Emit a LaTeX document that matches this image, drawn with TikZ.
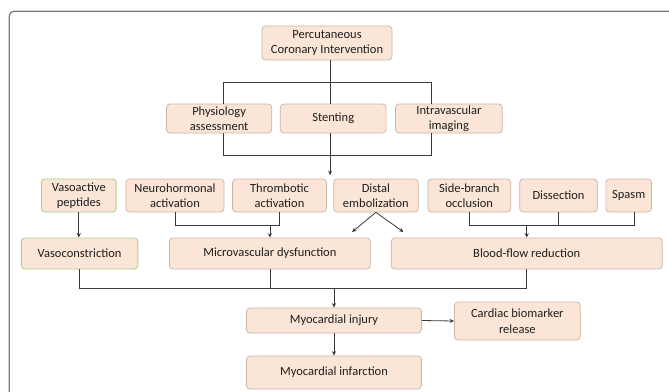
\documentclass[tikz,border=0pt]{standalone}
\usepackage{fontspec}
\setmainfont{Carlito}
\usetikzlibrary{arrows.meta,calc}
\definecolor{boxfill}{HTML}{FBE5D6}
\definecolor{boxline}{HTML}{C9B5A8}
\definecolor{greenline}{HTML}{A9D08E}
\definecolor{conn}{HTML}{3A3A3A}
\definecolor{framecol}{HTML}{7A7A7A}
\definecolor{txt}{HTML}{1E1E1E}
\tikzset{
  box/.style={draw=boxline, fill=boxfill, rounded corners=3.5pt, line width=0.7pt,
    align=center, inner sep=1pt, text=txt, font=\fontsize{12.5}{15.5}\selectfont},
  gbox/.style={box, draw=greenline, line width=0.9pt},
  conline/.style={draw=conn, line width=0.8pt},
  arr/.style={conline, -{Stealth[length=4.5pt,width=4pt]}},
}
\newcommand{\bx}[7][box]{\node[#1, minimum width=#5pt, minimum height=#6pt] (#2) at (#3,#4) {#7};}
\begin{document}
\begin{tikzpicture}[x=1pt,y=-1pt]
\useasboundingbox (0,0) rectangle (669,391);
\fill[white] (0,0) rectangle (669,391);
\draw[framecol, line width=1.2pt, rounded corners=4.5pt] (9.3,11.3) rectangle (720,440);

\bx{pci}{327}{43}{130}{34}{Percutaneous\\Coronary Intervention}
\bx{phys}{219.1}{118.5}{105.4}{29}{Physiology\\assessment}
\bx{stent}{333.2}{118.5}{105.8}{29}{Stenting}
\bx{ivi}{448.9}{118.5}{106.7}{29}{Intravascular\\imaging}

\bx[gbox]{vaso}{78.8}{195.5}{74.7}{33}{Vasoactive\\peptides}
\bx{neuro}{175}{195.5}{98.1}{33}{Neurohormonal\\activation}
\bx{thromb}{279.5}{195.5}{93.9}{33}{Thrombotic\\activation}
\bx{distal}{375.9}{195.5}{84.5}{33}{Distal\\embolization}
\bx{side}{469.3}{195.5}{82.8}{33}{Side-branch\\occlusion}
\bx{diss}{558.5}{195.5}{77.6}{33}{Dissection}
\bx{spasm}{628.7}{195.5}{45.7}{33}{Spasm}

\bx[gbox]{vcon}{79.6}{253.5}{116.5}{31}{Vasoconstriction}
\bx{micro}{269.9}{253.5}{200.9}{31}{Microvascular dysfunction}
\bx{bfr}{526.7}{253.5}{271}{31}{Blood-flow reduction}

\bx{inj}{334}{320.5}{175}{25}{Myocardial injury}
\bx{cbr}{517.3}{321}{125.8}{38}{Cardiac biomarker\\release}
\bx{inf}{334}{372.5}{175}{33}{Myocardial infarction}

% coordinates
\coordinate (m) at ($(pci.south)!.5!(stent.north)$);
\coordinate (bar1) at (0,82);
\coordinate (bar2) at (0,155);
\coordinate (row2) at (0,225);
\coordinate (row3) at (0,288);
\coordinate (d1) at (352,232);
\coordinate (d2) at (403.5,232);

% PCI to techniques
\draw[conline] (m |- pci.south) -- (m |- stent.north);
\draw[conline] ([xshift=4pt]phys.north) -- ([xshift=4pt]phys.north |- bar1) -| ([xshift=-18pt]ivi.north);
\draw[conline] ([xshift=4pt]phys.south) -- ([xshift=4pt]phys.south |- bar2) -| ([xshift=-18pt]ivi.south);
\draw[arr, shorten >=3.5pt] (m |- stent.south) -- (m |- distal.north);

% row 2 to row 3
\draw[arr] (vaso.south) -- (vaso.south |- vcon.north);
\draw[conline] (neuro.south) -- (neuro.south |- row2) -| (thromb.south);
\draw[arr] (micro.north |- row2) -- (micro.north);
\draw[arr] (distal.south) -- (d1);
\draw[arr] (distal.south) -- (d2);
\draw[conline] (side.south) -- (side.south |- row2) -| ([xshift=5.5pt]spasm.south);
\draw[conline] (diss.south) -- (diss.south |- row2);
\draw[arr] (bfr.north |- row2) -- (bfr.north);

% row 3 to injury
\draw[conline] (vcon.south) -- (vcon.south |- row3) -| (bfr.south);
\draw[conline] (micro.south) -- (micro.south |- row3);
\draw[arr] (inj.north |- row3) -- (inj.north);
\draw[arr] (inj.east) -- (cbr.west);
\draw[arr] (inj.south) -- (inf.north);
\end{tikzpicture}
\end{document}
